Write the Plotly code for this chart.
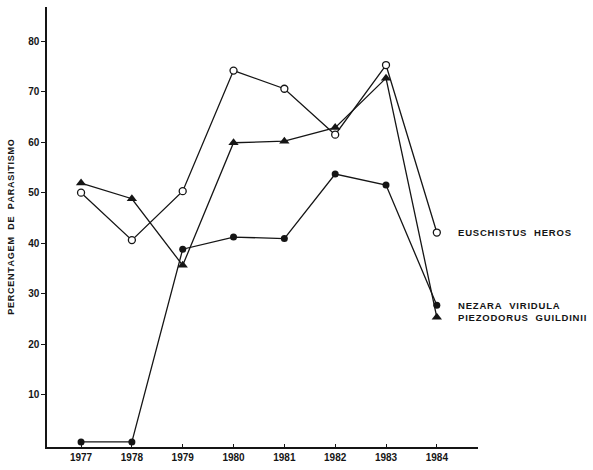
import plotly.graph_objects as go

years = [1977, 1978, 1979, 1980, 1981, 1982, 1983, 1984]
euschistus = [50.0, 40.6, 50.3, 74.2, 70.6, 61.5, 75.3, 42.1]
nezara = [0.6, 0.6, 38.8, 41.2, 40.9, 53.7, 51.5, 27.7]
piezodorus = [51.9, 48.8, 35.6, 59.9, 60.2, 62.9, 72.7, 25.3]

series_names = ["EUSCHISTUS  HEROS", "NEZARA  VIRIDULA", "PIEZODORUS  GUILDINII"]
y_ticks = [10, 20, 30, 40, 50, 60, 70, 80]

ink = "#151515"
family = "Liberation Sans, Arial, sans-serif"


def spaced(text):
    # widen the lettering a little with hair spaces between characters
    return "\u200a".join(text)


fig = go.Figure()

fig.add_trace(go.Scatter(
    x=years, y=piezodorus, mode="lines+markers", name=series_names[2],
    line=dict(color=ink, width=1.3),
    marker=dict(symbol="triangle-up", size=9, color=ink),
))
fig.add_trace(go.Scatter(
    x=years, y=nezara, mode="lines+markers", name=series_names[1],
    line=dict(color=ink, width=1.3),
    marker=dict(symbol="circle", size=7, color=ink),
))
fig.add_trace(go.Scatter(
    x=years, y=euschistus, mode="lines+markers", name=series_names[0],
    line=dict(color=ink, width=1.3),
    marker=dict(symbol="circle", size=7, color="white", line=dict(color=ink, width=1.3)),
))

# Series names written beside the 1984 end points
label_x = years[-1] + 0.37
for name, values in [(series_names[0], euschistus),
                     (series_names[1], nezara),
                     (series_names[2], piezodorus)]:
    fig.add_annotation(
        x=label_x, y=values[-1], xref="x", yref="y",
        text="<b>" + spaced(name) + "</b>", showarrow=False,
        xanchor="left", yanchor="middle",
        font=dict(family=family, size=9.5, color=ink),
    )

fig.update_layout(
    width=593, height=470,
    margin=dict(l=47, r=115, t=7, b=18),
    paper_bgcolor="white", plot_bgcolor="white",
    showlegend=False,
)

fig.update_xaxes(
    range=[1976.33, 1984.81],
    tickvals=years, ticktext=["<b>%d</b>" % y for y in years],
    ticks="inside", ticklen=3, tickcolor=ink, tickwidth=1,
    showline=True, linecolor=ink, linewidth=1.5,
    showgrid=False, zeroline=False,
    tickfont=dict(family=family, size=10, color=ink),
)
fig.update_yaxes(
    range=[-0.4, 86.8],
    tickvals=y_ticks, ticktext=["<b>%d</b>" % v for v in y_ticks],
    ticks="outside", ticklen=4, tickcolor=ink, tickwidth=1,
    showline=True, linecolor=ink, linewidth=1.5,
    showgrid=False, zeroline=False,
    tickfont=dict(family=family, size=10, color=ink),
    title=dict(text="<b>" + spaced("PERCENTAGEM  DE  PARASITISMO") + "</b>",
               font=dict(family=family, size=9, color=ink),
               standoff=12),
)

fig.write_html("out.html")
